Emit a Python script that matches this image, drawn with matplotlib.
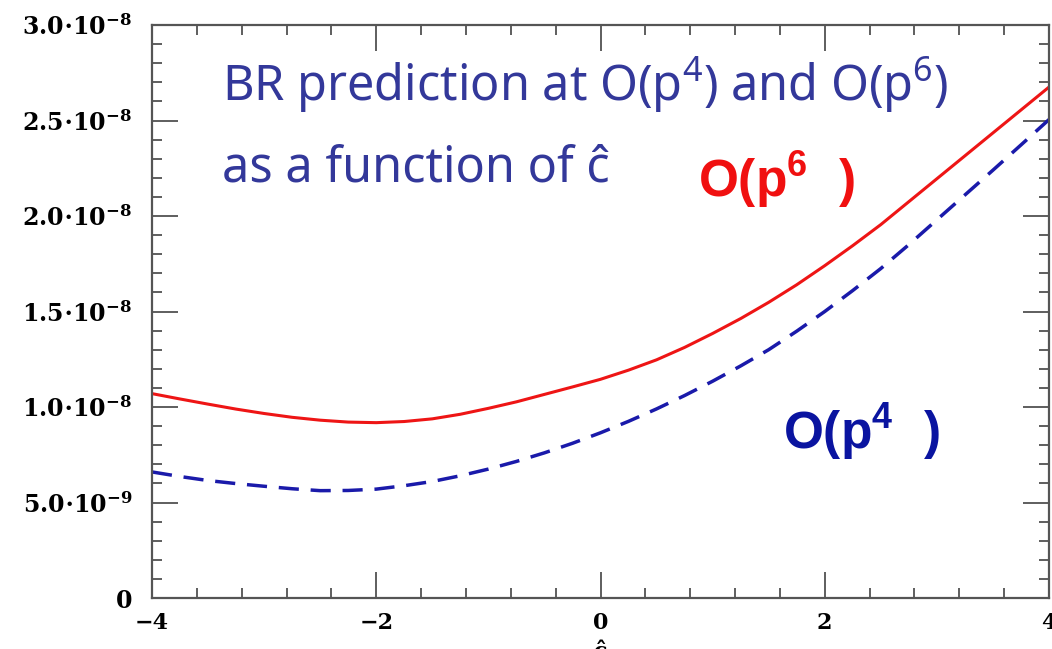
import matplotlib
matplotlib.use('Agg')
import matplotlib.pyplot as plt
from matplotlib.ticker import FixedLocator, MultipleLocator, FixedFormatter

# branching ratio vs c-hat, in units of 1e-9
c_hat = [-4.00, -3.75, -3.50, -3.25, -3.00, -2.75, -2.50, -2.25, -2.00,
         -1.75, -1.50, -1.25, -1.00, -0.75, -0.50, -0.25, 0.00,
         0.25, 0.50, 0.75, 1.00, 1.25, 1.50, 1.75, 2.00,
         2.25, 2.50, 2.75, 3.00, 3.25, 3.50, 3.75, 4.00]
br_p6 = [10.70, 10.42, 10.15, 9.89, 9.66, 9.46, 9.31, 9.21, 9.18,
         9.24, 9.38, 9.62, 9.93, 10.27, 10.66, 11.05, 11.45,
         11.93, 12.47, 13.12, 13.85, 14.63, 15.48, 16.40, 17.40,
         18.45, 19.55, 20.75, 21.95, 23.15, 24.35, 25.55, 26.75]
br_p4 = [6.60, 6.36, 6.15, 5.99, 5.85, 5.72, 5.62, 5.63, 5.70,
         5.88, 6.10, 6.40, 6.75, 7.15, 7.60, 8.10, 8.65,
         9.25, 9.90, 10.60, 11.35, 12.15, 13.00, 13.97, 15.00,
         16.10, 17.25, 18.50, 19.80, 21.10, 22.40, 23.72, 25.05]

x_ticks = [-4, -2, 0, 2, 4]
x_ticklabels = ['\u22124', '\u22122', '0', '2', '4']
y_ticks = [0, 5e-9, 1e-8, 1.5e-8, 2e-8, 2.5e-8, 3e-8]
y_ticklabels = ['$\\mathbf{0}$',
                r'$\mathbf{5.0{\cdot}10^{-9}}$',
                r'$\mathbf{1.0{\cdot}10^{-8}}$',
                r'$\mathbf{1.5{\cdot}10^{-8}}$',
                r'$\mathbf{2.0{\cdot}10^{-8}}$',
                r'$\mathbf{2.5{\cdot}10^{-8}}$',
                r'$\mathbf{3.0{\cdot}10^{-8}}$']

plt.rcParams['mathtext.fontset'] = 'custom'
plt.rcParams['mathtext.rm'] = 'Noto Sans'
plt.rcParams['mathtext.it'] = 'Noto Sans:italic'
plt.rcParams['mathtext.bf'] = 'DejaVu Serif:bold'
plt.rcParams['mathtext.sf'] = 'Liberation Sans:bold'

fig = plt.figure(figsize=(10.52, 6.49), dpi=100)
ax = fig.add_axes([152 / 1052, 51 / 649, 897 / 1052, 573 / 649])

scale = 1e-9
ax.plot(c_hat, [v * scale for v in br_p6], color='#ee1515', lw=2.2)
ax.plot(c_hat, [v * scale for v in br_p4], color='#1a1aaa', lw=2.5,
        dashes=(5.8, 3.4))

ax.set_xlim(-4, 4)
ax.set_ylim(0, 3e-8)

ax.xaxis.set_major_locator(FixedLocator(x_ticks))
ax.xaxis.set_major_formatter(FixedFormatter(x_ticklabels))
ax.xaxis.set_minor_locator(MultipleLocator(0.4))
ax.yaxis.set_major_locator(FixedLocator(y_ticks))
ax.yaxis.set_major_formatter(FixedFormatter(y_ticklabels))
ax.yaxis.set_minor_locator(MultipleLocator(1e-9))

ax.tick_params(which='both', direction='in', top=True, right=True,
               color='#333333', width=1.1)
ax.tick_params(which='major', length=19)
ax.tick_params(which='minor', length=7)
ax.tick_params(axis='y', which='major', pad=14, labelsize=17)
ax.tick_params(axis='x', which='major', pad=10, labelsize=16)
for lab in ax.get_xticklabels():
    lab.set_fontfamily('DejaVu Serif')
    lab.set_fontweight('bold')

for sp in ax.spines.values():
    sp.set_color('#555555')
    sp.set_linewidth(1.6)

# annotations
blue_txt = '#33389a'
fig.text(222 / 1052, 1 - 85 / 649,
         r'BR prediction at O(p$^4$) and O(p$^6$)',
         fontfamily='Noto Sans', fontsize=35, color=blue_txt, va='center')
fig.text(222 / 1052, 1 - 168 / 649, 'as a function of \u0109',
         fontfamily='Noto Sans', fontsize=35, color=blue_txt, va='center')

fig.text(698 / 1052, 1 - 180 / 649, r'$\mathsf{O(p^{6}\ \ )}$',
         fontsize=37, color='#f01010', va='center')
fig.text(783 / 1052, 1 - 432 / 649, r'$\mathsf{O(p^{4}\ \ )}$',
         fontsize=37, color='#0a14a0', va='center')

# axis title, mostly below the visible area
fig.text(600 / 1052, 1 - 641 / 649, '\u0109', fontfamily='DejaVu Serif',
         fontweight='bold', fontsize=16, ha='center', va='top')

fig.savefig('out.png', dpi=100)
